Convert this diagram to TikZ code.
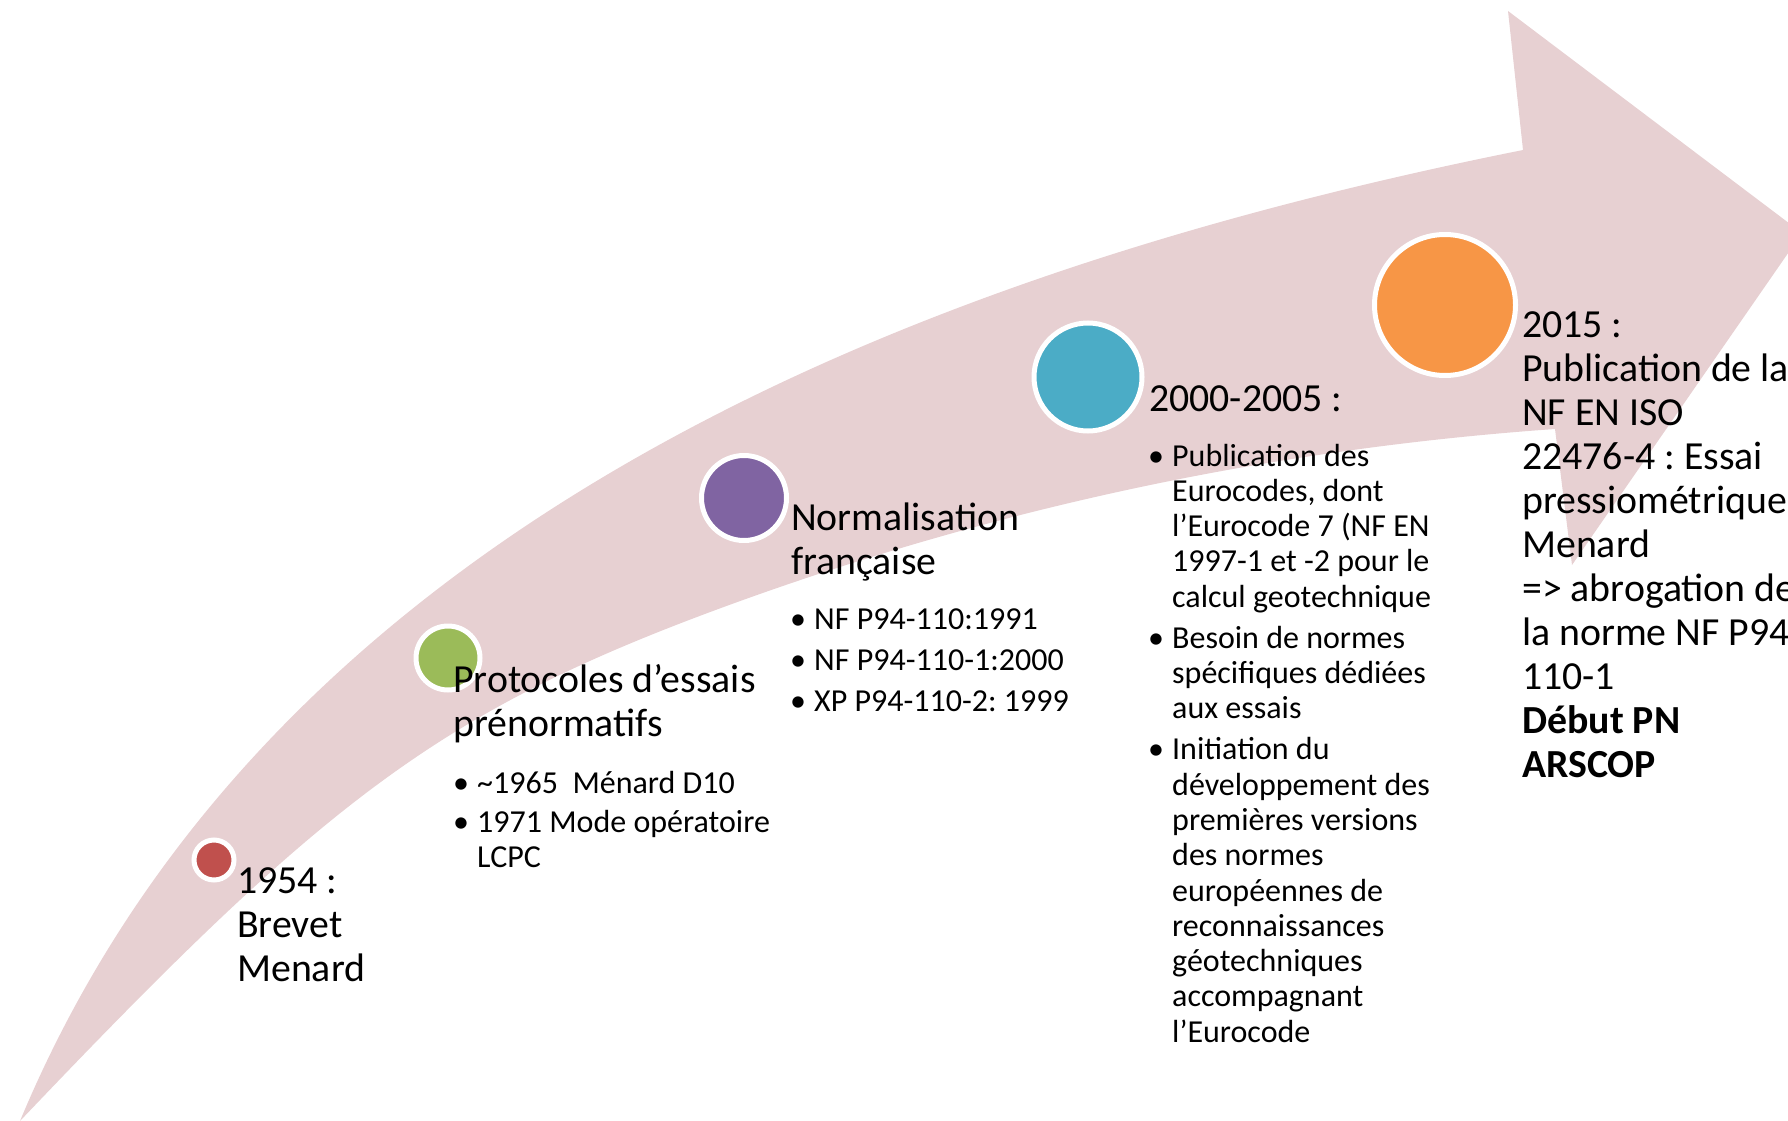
\documentclass[tikz,border=0pt]{standalone}
\usepackage{fontspec}
\setmainfont{Carlito}
\frenchspacing
\definecolor{bandpink}{RGB}{231,208,210}
\definecolor{cred}{RGB}{192,80,77}
\definecolor{cgreen}{RGB}{155,187,89}
\definecolor{cpurple}{RGB}{128,100,162}
\definecolor{cblue}{RGB}{75,172,198}
\definecolor{corange}{RGB}{247,150,70}
\newcommand\blk[1]{\begin{tabular}[t]{@{}l@{}}#1\end{tabular}}
\newcommand\blist[1]{\begin{tabular}[t]{@{}l@{}l@{}}#1\end{tabular}}
\newcommand\bu{\makebox[24pt][l]{•}}
\begin{document}
\begin{tikzpicture}[x=1pt,y=-1pt,
  dotnode/.style={circle, draw=white, line width=5pt, inner sep=0pt},
  headtxt/.style={anchor=base west, inner sep=0pt, font=\fontsize{39.8}{44}\selectfont},
  listtxt/.style={anchor=base west, inner sep=0pt, font=\fontsize{32}{35.3}\selectfont}]
\useasboundingbox (0,0) rectangle (1788,1121);
\clip (0,0) rectangle (1788,1121);
% curved arrow
\fill[bandpink] (20,1121) .. controls (270,521) and (923,270) .. (1523,150)
  -- (1508,11) -- (1802,233) -- (1572,565) -- (1555,429)
  .. controls (1285,448) and (1013,503) .. (743,600)
  .. controls (443,708) and (330,795) .. (20,1121)
  -- cycle;
% circles
\node[dotnode, fill=cred, minimum size=40pt] (c1) at (214,860) {};
\node[dotnode, fill=cgreen, minimum size=64pt] (c2) at (448,658) {};
\node[dotnode, fill=cpurple, minimum size=85pt] (c3) at (744,498) {};
\node[dotnode, fill=cblue, minimum size=108pt] (c4) at (1088,377) {};
\node[dotnode, fill=corange, minimum size=141pt] (c5) at (1445,305) {};
% texts
\node[headtxt] (t1) at (237,893) {\blk{1954 :\\Brevet\\Menard}};
\node[headtxt] (t2) at (453,692) {\blk{Protocoles d’essais\\prénormatifs}};
\node[listtxt] (l2) at (453,793) {\blist{\bu & \textasciitilde 1965\ \ Ménard D10\\[3.7pt]
  \bu & 1971 Mode opératoire\\ & LCPC}};
\node[headtxt] (t3) at (791,530) {\blk{Normalisation\\française}};
\node[listtxt] (l3) at (790,629) {\blist{\bu & NF P94-110:1991\\[6pt]
  \bu & NF P94-110-1:2000\\[6pt]
  \bu & XP P94-110-2: 1999}};
\node[headtxt] (t4) at (1149,411) {\blk{2000-2005 :}};
\node[listtxt] (l4) at (1148,466) {\blist{\bu & Publication des\\ & Eurocodes, dont\\ & l’Eurocode 7 (NF EN\\ & 1997-1 et -2 pour le\\ & calcul geotechnique\\[5.7pt]
  \bu & Besoin de normes\\ & spécifiques dédiées\\ & aux essais\\[5.7pt]
  \bu & Initiation du\\ & développement des\\ & premières versions\\ & des normes\\ & européennes de\\ & reconnaissances\\ & géotechniques\\ & accompagnant\\ & l’Eurocode}};
\node[headtxt] (t5) at (1522,337) {\blk{2015 :\\Publication de la\\NF EN ISO\\22476-4 : Essai\\pressiométrique\\Menard\\=> abrogation de\\la norme NF P94-\\110-1\\\textbf{Début PN}\\\textbf{ARSCOP}}};
\end{tikzpicture}
\end{document}
